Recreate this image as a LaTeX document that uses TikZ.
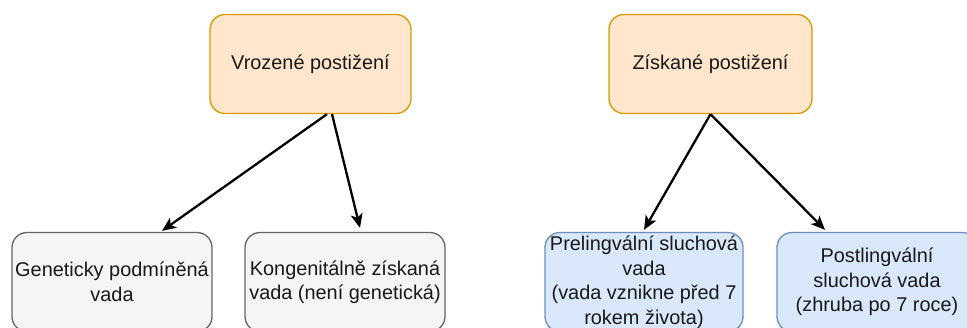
\documentclass[tikz,border=0pt]{standalone}
\usepackage{fontspec}
\setmainfont{Liberation Sans}
\usetikzlibrary{arrows.meta}
\definecolor{orfill}{HTML}{FFE6CC}
\definecolor{ordraw}{HTML}{D79B00}
\definecolor{grfill}{HTML}{F5F5F5}
\definecolor{grdraw}{HTML}{666666}
\definecolor{blfill}{HTML}{DAE8FC}
\definecolor{bldraw}{HTML}{6C8EBF}
\begin{document}
\begin{tikzpicture}[x=1pt,y=-1pt,
  box/.style={rounded corners=15pt, line width=1.3pt, minimum width=200pt,
    minimum height=99pt, align=center, inner sep=0pt, text=black!90,
    font=\fontsize{19.9}{24.5}\selectfont},
  orbox/.style={box, fill=orfill, draw=ordraw},
  grbox/.style={box, fill=grfill, draw=grdraw},
  blbox/.style={box, fill=blfill, draw=bldraw},
  conn/.style={line width=2.3pt, -{Stealth[length=14pt, width=12pt, inset=3.5pt]}}]
\useasboundingbox (0,0) rectangle (967,327);
\clip (0,0) rectangle (967,327);
\fill[white] (0,0) rectangle (967,327);

\node[orbox, minimum width=201pt] (vroz) at (310.5,64) {Vrozené postižení};
\node[orbox, minimum width=203pt] (zisk) at (710.5,64) {Získané postižení};

\node[grbox] (gen) at (112,282) {Geneticky podmíněná\\vada};
\node[grbox] (kong) at (345,282) {Kongenitálně získaná\\vada (není genetická)};
\node[blbox, minimum width=198pt] (pre) at (644,282) {Prelingvální sluchová\\vada\\(vada vznikne před 7\\rokem života)};
\node[blbox] (post) at (877,282) {Postlingvální\\sluchová vada\\(zhruba po 7 roce)};

\draw[conn] ([xshift=16.5pt]vroz.south) -- ([xshift=50pt,yshift=1pt]gen.north);
\draw[conn] ([xshift=21.5pt]vroz.south) -- ([xshift=15pt,yshift=4pt]kong.north);
\draw[conn] (zisk.south) -- ([yshift=2pt]pre.north);
\draw[conn] (zisk.south) -- ([xshift=-52pt,yshift=2pt]post.north);
\end{tikzpicture}
\end{document}
